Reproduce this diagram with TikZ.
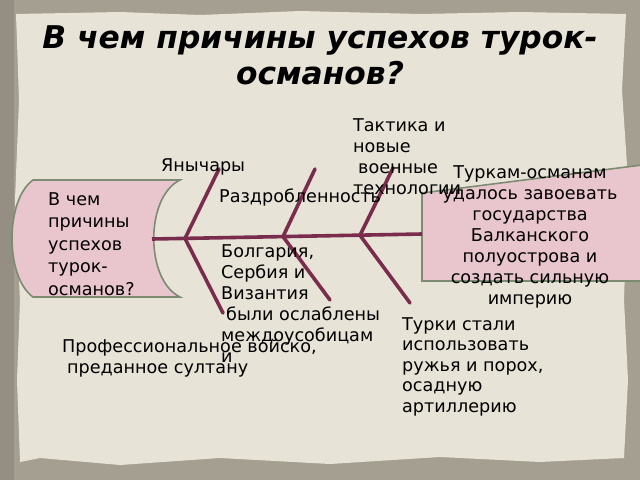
\documentclass[tikz,border=0pt]{standalone}
\usepackage{fontspec}
\setmainfont{DejaVu Sans}
\definecolor{outerc}{HTML}{A49F90}
\definecolor{paperc}{HTML}{E7E3D6}
\definecolor{pinkc}{HTML}{E9C6CD}
\definecolor{edgec}{HTML}{7D8B72}
\definecolor{bonec}{HTML}{7A2C4C}
\begin{document}
\begin{tikzpicture}[x=1pt,y=-1pt,
  lbl/.style={font=\fontsize{17.6}{21}\selectfont, inner sep=0pt, align=left, anchor=north west},
  bone/.style={draw=bonec, line width=3.6pt, line cap=round},
  pinkshape/.style={fill=pinkc, draw=edgec, line width=1.6pt}]
\useasboundingbox (0,0) rectangle (640,480);
% background
\fill[outerc] (0,0) rectangle (640,480);
\fill[outerc!90!black] (0,0) rectangle (14,480);
\fill[paperc] (16,14) -- (120,12) -- (200,15) -- (300,11) -- (420,14) -- (520,12) -- (626,14)
  -- (622,90) -- (628,180) -- (624,300) -- (628,380) -- (624,458)
  -- (540,462) -- (440,457) -- (330,464) -- (220,458) -- (120,465) -- (40,458) -- (20,462)
  -- (17,380) -- (20,300) -- (15,200) -- (19,100) -- cycle;
% title
\node[font=\fontsize{31.3}{36.5}\selectfont\bfseries\itshape, align=center, inner sep=0pt, anchor=north]
  (title) at (320,25) {В чем причины успехов турок-\\османов?};
% tail
\draw[pinkshape] (180,180) -- (33,180) .. controls (5,200) and (5,277) .. (33,297) -- (180,297)
  .. controls (145,280) and (145,197) .. (180,180) -- cycle;
\node[lbl, font=\fontsize{17.6}{22.5}\selectfont] (tail) at (48,192) {В чем\\причины\\успехов\\турок-\\османов?};
% head
\draw[pinkshape] (422,193) -- (642,165) -- (642,281) -- (422,281) -- cycle;
\coordinate (he) at (422,234);
% spine and bones
\coordinate (s0) at (152,239);
\coordinate (j1) at (185,238.4);
\coordinate (j2) at (283,236.6);
\coordinate (j3) at (360,235.3);
\coordinate (t1) at (219,169);
\coordinate (t2) at (315,169);
\coordinate (t3) at (393,168);
\coordinate (b1) at (223,313);
\coordinate (b2) at (330,300);
\coordinate (b3) at (410,303);
\draw[bone, line cap=butt] (s0) -- (he);
\draw[bone] (j1) -- (t1);
\draw[bone] (j2) -- (t2);
\draw[bone] (j3) -- (t3);
\draw[bone] (j1) -- (b1);
\draw[bone] (j2) -- (b2);
\draw[bone] (j3) -- (b3);
% labels
\node[lbl] (yan) at (161,158) {Янычары};
\node[lbl] (razd) at (219,189) {Раздробленность};
\node[lbl] (takt) at (353,118) {Тактика и\\новые\\\hspace*{5pt}военные\\технологии};
\node[lbl, align=center, anchor=north] (headtxt) at (530,165)
  {Туркам-османам\\удалось завоевать\\государства\\Балканского\\полуострова и\\создать сильную\\империю};
\node[lbl] (bolg) at (221,244) {Болгария,\\Сербия и\\Византия\\\hspace*{5pt}были ослаблены\\междоусобицам\\и};
\node[lbl] (prof) at (62,339) {Профессиональное войско,\\\hspace*{5pt}преданное султану};
\node[lbl, font=\fontsize{17.6}{20.6}\selectfont] (turki) at (402,317) {Турки стали\\использовать\\ружья и порох,\\осадную\\артиллерию};
\end{tikzpicture}
\end{document}
